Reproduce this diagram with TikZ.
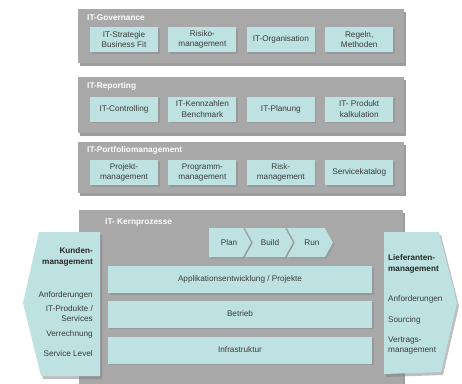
\documentclass[tikz,border=0pt]{standalone}
\usepackage{fontspec}
\setmainfont{Liberation Sans}
\usetikzlibrary{chains,shadows,positioning}
\definecolor{panelgray}{HTML}{A8A8A8}
\definecolor{boxteal}{HTML}{BEE2E2}
\definecolor{inktext}{HTML}{3A3A3A}

\begin{document}
\begin{tikzpicture}[x=1pt, y=-1pt,
  panel/.style={rectangle, fill=panelgray, anchor=north west, inner sep=0pt, drop shadow={shadow xshift=2pt, shadow yshift=-3pt, fill=black!70, opacity=.55}},
  paneltitle/.style={anchor=west, inner sep=0pt, text=white, font=\fontsize{8.3}{9}\selectfont\bfseries},
  item/.style={rectangle, fill=boxteal, minimum width=68pt, minimum height=25pt, inner sep=1pt, align=center, text=inktext, font=\fontsize{8.2}{10.5}\selectfont, drop shadow={shadow xshift=1.5pt, shadow yshift=-1.5pt, opacity=.4}},
  bar/.style={item, minimum width=264pt, minimum height=27pt},
  side/.style={fill=boxteal, drop shadow={shadow xshift=2pt, shadow yshift=-3pt, opacity=.5}},
  chevron/.style={fill=boxteal, drop shadow={shadow xshift=1.5pt, shadow yshift=-1.5pt, opacity=.4}},
  sidetext/.style={inner sep=0pt, text=inktext, font=\fontsize{8.2}{10}\selectfont},
  sidehead/.style={sidetext, font=\fontsize{8.2}{10.5}\selectfont\bfseries, text=black!85}]
  \useasboundingbox (0,0) rectangle (462,383);

  % gray panels
  \node[panel, minimum width=326pt, minimum height=54pt] (gov) at (78,9) {};
  \node[panel, minimum width=326pt, minimum height=56pt] (rep) at (78,77) {};
  \node[panel, minimum width=326pt, minimum height=51pt] (port) at (78,142) {};
  \node[panel, minimum width=324pt, minimum height=185pt] (kern) at (79,210) {};
  \node[paneltitle] (govtitle) at (87,18) {IT-Governance};
  \node[paneltitle] (reptitle) at (87,86) {IT-Reporting};
  \node[paneltitle] (porttitle) at (87,150) {IT-Portfoliomanagement};
  \node[paneltitle] (kerntitle) at (105,223) {IT- Kernprozesse};

  % rows of boxes
  \begin{scope}[start chain=govrow going right, node distance=10pt]
    \node[item, on chain] (strategie) at (124,39.5) {IT-Strategie\\Business Fit};
    \node[item, on chain] (risiko) {Risiko-\\management};
    \node[item, on chain] (organisation) {IT-Organisation};
    \node[item, on chain] (regeln) {Regeln,\\Methoden};
  \end{scope}
  \begin{scope}[start chain=reprow going right, node distance=10pt]
    \node[item, on chain] (controlling) at (124,109) {IT-Controlling};
    \node[item, on chain] (kennzahlen) {IT-Kennzahlen\\Benchmark};
    \node[item, on chain] (planung) {IT-Planung};
    \node[item, on chain] (kalkulation) {IT- Produkt\\kalkulation};
  \end{scope}
  \begin{scope}[start chain=portrow going right, node distance=10pt]
    \node[item, on chain] (projekt) at (124,172.5) {Projekt-\\management};
    \node[item, on chain] (programm) {Programm-\\management};
    \node[item, on chain] (risk) {Risk-\\management};
    \node[item, on chain] (katalog) {Servicekatalog};
  \end{scope}

  % Plan / Build / Run
  \path[chevron] (209,228) -- (243,228) -- (251,242.5) -- (243,257) -- (209,257) -- cycle;
  \path[chevron] (245,228) -- (285,228) -- (293,242.5) -- (285,257) -- (245,257) -- (253,242.5) -- cycle;
  \path[chevron] (287,228) -- (325,228) -- (333,242.5) -- (325,257) -- (287,257) -- (295,242.5) -- cycle;
  \node[sidetext] (plan) at (229,242.5) {Plan};
  \node[sidetext] (build) at (270,242.5) {Build};
  \node[sidetext] (run) at (312,242.5) {Run};

  % core bars
  \node[bar] (appl) at (240,279.5) {Applikationsentwicklung / Projekte};
  \node[bar] (betrieb) at (240,314) {Betrieb};
  \node[bar] (infra) at (240,350) {Infrastruktur};

  % customer and supplier sides
  \path[side] (39,232) -- (100,232) -- (100,376) -- (41,376) -- (23,303) -- cycle;
  \path[side] (384,232) -- (439,232) -- (457,303) -- (441,372) -- (384,374) -- cycle;

  \node[sidehead, anchor=east, align=right] (kunden) at (93,257) {Kunden-\\management};
  \node[sidetext, anchor=east] (kanf) at (93,295) {Anforderungen};
  \node[sidetext, anchor=east, align=right] (kprod) at (93,314) {IT-Produkte /\\Services};
  \node[sidetext, anchor=east] (kverr) at (93,334) {Verrechnung};
  \node[sidetext, anchor=east] (klevel) at (93,354) {Service Level};

  \node[sidehead, anchor=west, align=left] (lief) at (388,264) {Lieferanten-\\management};
  \node[sidetext, anchor=west] (lanf) at (388,299) {Anforderungen};
  \node[sidetext, anchor=west] (lsourcing) at (388,320) {Sourcing};
  \node[sidetext, anchor=west, align=left] (lvertrag) at (388,346) {Vertrags-\\management};
\end{tikzpicture}
\end{document}
